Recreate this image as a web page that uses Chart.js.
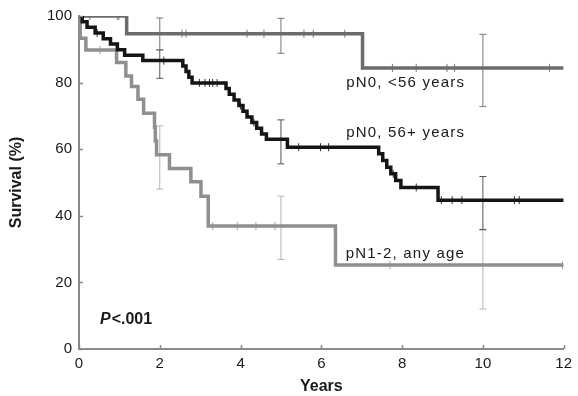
<!DOCTYPE html>
<html>
<head>
<meta charset="utf-8">
<script src="https://cdn.jsdelivr.net/npm/chart.js@4.4.1/dist/chart.umd.min.js"></script>
<style>
  html, body { margin: 0; padding: 0; background: #fff; }
  .wrap { width: 578px; height: 396px; position: relative; }
</style>
</head>
<body>
<div class="wrap"><canvas id="km"></canvas></div>
<script>
// axes
const yearTicks = [0, 2, 4, 6, 8, 10, 12];
const survivalTicks = [0, 20, 40, 60, 80, 100];
const seriesNames = ['pN0, <56 years', 'pN0, 56+ years', 'pN1-2, any age'];
const pValue = '<.001';

// pN0, <56 years
const youngTimes = [0, 1.18, 7.02, 12];
const youngSurv = [100, 94.7, 84.4, 84.4];
const youngCensored = [0.27, 0.95, 0.99, 2.55, 2.65, 4.16, 4.58, 5.57, 5.8, 6.58, 7.76, 8.35, 9.11, 9.3, 11.65];
const youngCiYears = [2, 5, 10];
const youngCiLow = [89.9, 88.8, 72.8];
const youngCiHigh = [99.4, 99.3, 94.5];

// pN0, 56+ years
const oldTimes = [0, 0.08, 0.2, 0.4, 0.6, 0.78, 0.95, 1.13, 1.58, 2.57, 2.65, 2.72, 2.8,
  3.64, 3.72, 3.84, 3.96, 4.06, 4.16, 4.28, 4.4, 4.52, 4.64, 5.16,
  7.42, 7.52, 7.62, 7.72, 7.84, 7.97, 8.89, 12];
const oldSurv = [100, 98.3, 96.6, 94.9, 93.2, 91.6, 89.9, 88.2, 86.6, 85.0, 83.3, 81.6, 79.9,
  78.2, 76.5, 74.8, 73.1, 71.4, 69.7, 68.0, 66.3, 64.6, 63.0, 60.6,
  58.6, 56.6, 54.6, 52.6, 50.6, 48.5, 44.7, 44.7];
const oldCensored = [0.45, 2.1, 2.98, 3.12, 3.23, 3.31, 3.42, 4.0, 4.33, 5.44, 5.98, 6.18, 7.78, 8.35, 8.97, 9.24, 9.48, 10.78, 10.9];
const oldCiYears = [2, 5, 10];
const oldCiLow = [81.3, 55.6, 35.9];
const oldCiHigh = [89.8, 68.8, 51.8];

// pN1-2, any age
const nodeTimes = [0, 0.03, 0.17, 0.93, 1.16, 1.3, 1.46, 1.6, 1.87, 1.89, 1.92, 2.24, 2.77, 3.02, 3.2, 6.35, 12];
const nodeSurv = [100, 93.3, 89.8, 86.0, 82.0, 78.8, 75.0, 70.8, 66.6, 62.5, 58.3, 54.2, 50.2, 45.9, 36.9, 25.2, 25.2];
const nodeCensored = [0.52, 3.31, 3.92, 4.38, 4.85, 7.7, 11.97];
const nodeCiYears = [2, 5, 10];
const nodeCiLow = [48, 26.9, 12];
const nodeCiHigh = [67, 45.9, 35.7];

// label anchors (data units, right aligned)
const labelYear = 9.56;
const labelSurv = [78.7, 63.6, 27.3];

const axisColor = '#8a8a8a';
const textColor = '#1a1a1a';

function survivalAt(times, surv, t) {
  let s = surv[0];
  for (let i = 0; i < times.length; i++) {
    if (times[i] <= t) s = surv[i];
  }
  return s;
}

function curve(times, surv, color, order) {
  return {
    data: times.map((t, i) => ({ x: t, y: surv[i] })),
    borderColor: color,
    borderWidth: 3.5,
    stepped: true,
    pointRadius: 0,
    fill: false,
    order: order,
  };
}

function censorMarks(times, surv, cens, color, order) {
  return {
    data: cens.map(t => ({ x: t, y: survivalAt(times, surv, t) })),
    showLine: false,
    pointStyle: 'line',
    rotation: 90,
    pointRadius: 4,
    pointBorderWidth: 1,
    pointBorderColor: color,
    borderColor: color,
    order: order,
  };
}

function ciBars(years, lo, hi, color, order) {
  return years.map((t, i) => ({
    data: [{ x: t, y: lo[i] }, { x: t, y: hi[i] }],
    borderColor: color,
    borderWidth: 1,
    pointStyle: 'line',
    pointRadius: 3.5,
    pointBorderWidth: 1,
    pointBorderColor: color,
    order: order,
  }));
}

const datasets = [
  curve(oldTimes, oldSurv, '#151515', 0),
  curve(youngTimes, youngSurv, '#6c6c6c', 1),
  curve(nodeTimes, nodeSurv, '#8f8f8f', 2),
  censorMarks(oldTimes, oldSurv, oldCensored, '#333333', 3),
  censorMarks(youngTimes, youngSurv, youngCensored, '#777777', 3),
  censorMarks(nodeTimes, nodeSurv, nodeCensored, '#a0a0a0', 3),
  ...ciBars(youngCiYears, youngCiLow, youngCiHigh, '#777777', 4),
  ...ciBars(oldCiYears, oldCiLow, oldCiHigh, '#555555', 4),
  ...ciBars(nodeCiYears, nodeCiLow, nodeCiHigh, '#b5b5b5', 5),
];

const overlay = {
  id: 'overlay',
  afterDraw(chart) {
    const { ctx, scales: { x, y } } = chart;
    ctx.save();
    // inward tick marks
    ctx.strokeStyle = axisColor;
    ctx.lineWidth = 1.5;
    ctx.beginPath();
    yearTicks.forEach(v => {
      const px = Math.round(x.getPixelForValue(v)) + 0.5;
      ctx.moveTo(px, y.bottom);
      ctx.lineTo(px, y.bottom - 4);
    });
    survivalTicks.forEach(v => {
      const py = Math.round(y.getPixelForValue(v)) + 0.5;
      ctx.moveTo(x.left, py);
      ctx.lineTo(x.left + 4, py);
    });
    ctx.stroke();

    // curve labels
    ctx.fillStyle = textColor;
    ctx.font = '15px "Liberation Sans", Arial, sans-serif';
    ctx.letterSpacing = '1.2px';
    ctx.textAlign = 'right';
    ctx.textBaseline = 'alphabetic';
    seriesNames.forEach((name, i) => {
      ctx.fillText(name, x.getPixelForValue(labelYear), y.getPixelForValue(labelSurv[i]));
    });

    // p value
    ctx.letterSpacing = '0px';
    ctx.textAlign = 'left';
    const px = x.getPixelForValue(0.52);
    const py = y.getPixelForValue(7.5);
    ctx.font = 'italic bold 16px "Liberation Sans", Arial, sans-serif';
    ctx.fillText('P', px, py);
    const w = ctx.measureText('P').width;
    ctx.font = 'bold 16px "Liberation Sans", Arial, sans-serif';
    ctx.fillText(pValue, px + w + 1, py);
    ctx.restore();
  }
};

new Chart(document.getElementById('km'), {
  type: 'line',
  data: { datasets: datasets },
  options: {
    animation: false,
    responsive: true,
    maintainAspectRatio: false,
    layout: { padding: { top: 16, right: 11, left: 0, bottom: 0 } },
    plugins: {
      legend: { display: false },
      tooltip: { enabled: false },
    },
    scales: {
      x: {
        type: 'linear',
        min: 0,
        max: 12,
        afterFit: s => { s.height = 47; },
        afterBuildTicks: s => { s.ticks = yearTicks.map(v => ({ value: v })); },
        grid: { display: true, drawOnChartArea: false, drawTicks: false },
        border: { display: true, color: axisColor, width: 2 },
        ticks: {
          color: textColor,
          padding: 6,
          maxRotation: 0,
          font: { family: '"Liberation Sans", Arial, sans-serif', size: 15 },
        },
        title: {
          display: true,
          text: 'Years',
          color: textColor,
          padding: { top: 0, bottom: 0 },
          font: { family: '"Liberation Sans", Arial, sans-serif', size: 16, weight: 'bold' },
        },
      },
      y: {
        type: 'linear',
        min: 0,
        max: 100,
        afterFit: s => { s.width = 79; },
        afterBuildTicks: s => { s.ticks = survivalTicks.map(v => ({ value: v })); },
        grid: { display: true, drawOnChartArea: false, drawTicks: false },
        border: { display: true, color: axisColor, width: 2 },
        ticks: {
          color: textColor,
          padding: 7,
          font: { family: '"Liberation Sans", Arial, sans-serif', size: 15 },
        },
        title: {
          display: true,
          text: 'Survival (%)',
          color: textColor,
          padding: { top: 7, bottom: 0 },
          font: { family: '"Liberation Sans", Arial, sans-serif', size: 16, weight: 'bold' },
        },
      },
    },
  },
  plugins: [overlay],
});
</script>
</body>
</html>
